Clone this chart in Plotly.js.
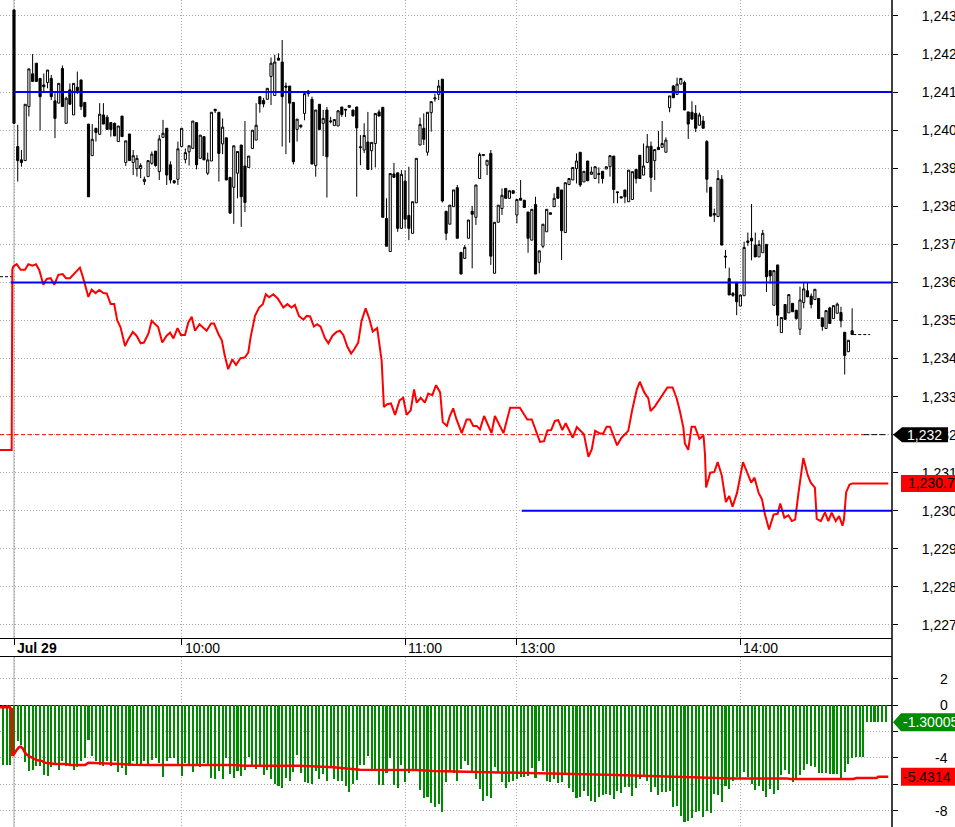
<!DOCTYPE html>
<html><head><meta charset="utf-8">
<script src="https://cdn.plot.ly/plotly-3.0.1.min.js"></script>
<style>html,body{margin:0;padding:0;background:#fff;overflow:hidden}#chart{width:955px;height:827px}</style>
</head><body><div id="chart"></div>
<script>
// ---- time axis (1-minute bar index) ----
const tickIdx = [0, 45, 105, 135, 195];
const tickText = ['Jul 29', '10:00', '11:00', '13:00', '14:00'];

// ---- candles ----
const candleOpen = [1243.16,1239.57,1239.22,1239.20,1240.62,1241.48,1241.76,1241.36,1241.19,1241.25,
1241.36,1240.77,1240.71,1241.62,1240.18,1241.06,1240.40,1241.13,1241.32,1240.73,
1240.16,1239.33,1240.05,1239.89,1240.40,1240.34,1240.20,1240.18,1239.70,1240.37,
1239.15,1239.90,1239.15,1238.99,1238.99,1238.65,1238.78,1239.13,1239.45,1238.91,
1239.81,1240.05,1239.09,1238.67,1238.71,1239.57,1239.23,1239.43,1239.52,1240.20,
1239.26,1239.83,1238.87,1239.19,1240.55,1240.47,1239.64,1239.80,1238.76,1238.50,
1238.87,1239.61,1239.06,1239.02,1239.52,1239.74,1240.88,1240.78,1240.81,1241.41,
1240.91,1241.89,1241.79,1241.16,1241.16,1240.73,1240.02,1240.13,1240.44,1241.03,
1240.81,1239.07,1240.68,1240.18,1240.53,1240.22,1240.12,1240.11,1240.61,1240.55,
1240.60,1240.53,1240.61,1239.54,1239.48,1239.69,1239.46,1239.65,1240.48,1240.60,
1237.68,1236.81,1238.85,1238.88,1237.42,1238.66,1237.76,1237.29,1238.09,1239.61,
1240.05,1239.42,1240.46,1240.82,1240.94,1241.34,1237.87,1237.53,1237.99,1238.49,
1236.79,1236.63,1237.16,1237.87,1237.71,1238.73,1239.33,1239.08,1239.39,1236.24,
1237.58,1237.94,1238.47,1238.21,1238.41,1237.77,1238.21,1238.16,1237.85,1237.11,
1238.05,1236.53,1236.95,1237.33,1237.83,1237.99,1238.50,1238.43,1237.31,1238.57,
1238.69,1238.99,1239.42,1238.64,1239.19,1238.84,1238.73,1238.86,1238.92,1238.98,
1239.04,1239.32,1238.38,1238.25,1238.43,1238.12,1238.18,1238.97,1239.34,1238.82,
1239.15,1239.58,1239.20,1239.55,1239.55,1239.42,1240.59,1241.16,1240.94,1241.21,
1241.25,1240.48,1240.47,1240.44,1240.13,1240.24,1239.70,1238.50,1237.81,1237.73,
1238.71,1236.69,1236.10,1235.71,1236.00,1235.38,1235.65,1237.09,1237.16,1236.98,
1236.67,1236.78,1237.00,1236.31,1235.40,1236.46,1234.68,1235.42,1235.20,1235.45,
1235.27,1234.77,1235.47,1235.78,1235.64,1235.55,1235.58,1235.07,1234.79,1235.33,
1235.05,1235.19,1235.21,1234.69,1234.18,1234.73];
const candleHigh = [1243.16,1240.14,1239.48,1240.68,1241.61,1242.00,1241.76,1241.36,1241.49,1241.58,
1241.45,1240.97,1241.23,1241.70,1240.88,1241.23,1241.23,1241.54,1241.32,1240.73,
1240.16,1240.16,1240.05,1240.71,1240.71,1240.40,1240.20,1240.20,1240.11,1240.37,
1239.72,1239.90,1239.48,1239.35,1239.13,1238.78,1239.20,1239.44,1239.45,1239.87,
1240.27,1240.05,1239.18,1238.69,1239.70,1240.05,1239.52,1239.59,1240.24,1240.20,
1239.87,1239.83,1239.41,1240.47,1240.55,1240.47,1240.31,1239.80,1238.76,1239.59,
1239.44,1239.61,1240.24,1239.32,1240.00,1240.71,1240.88,1240.85,1241.10,1241.91,
1241.98,1242.02,1242.37,1241.25,1241.16,1240.73,1240.29,1240.15,1241.03,1241.05,
1240.88,1240.53,1240.68,1240.53,1240.61,1240.35,1240.28,1240.51,1240.61,1240.55,
1240.65,1240.53,1240.61,1239.87,1240.18,1240.48,1239.68,1240.44,1240.54,1240.60,
1238.21,1238.86,1239.14,1238.88,1238.95,1238.95,1239.04,1238.12,1239.26,1240.33,
1240.44,1240.47,1240.75,1240.96,1241.32,1241.34,1237.87,1238.03,1238.43,1238.56,
1236.79,1236.98,1237.64,1238.01,1238.56,1239.41,1239.36,1239.21,1239.48,1237.58,
1238.03,1238.47,1238.47,1238.41,1238.41,1238.18,1238.69,1238.16,1237.85,1237.92,
1238.25,1236.83,1237.53,1237.92,1237.83,1238.34,1238.50,1238.43,1238.62,1238.73,
1239.02,1239.39,1239.42,1238.92,1239.19,1239.04,1239.04,1239.02,1238.92,1239.04,
1239.33,1239.32,1238.38,1238.25,1238.43,1238.95,1238.91,1238.97,1239.34,1239.65,
1239.90,1239.70,1239.49,1239.98,1240.24,1239.81,1240.90,1241.19,1241.38,1241.36,
1241.30,1240.48,1240.76,1240.66,1240.46,1240.37,1239.74,1238.50,1237.94,1238.95,
1238.82,1236.85,1236.39,1235.75,1236.00,1235.67,1237.07,1237.31,1238.06,1237.31,
1237.11,1237.38,1237.00,1236.31,1236.31,1236.46,1235.08,1235.42,1235.68,1235.45,
1235.27,1235.89,1236.00,1236.00,1235.71,1235.82,1235.58,1235.07,1235.26,1235.36,
1235.39,1235.47,1235.36,1234.69,1234.48,1235.32];
const candleLow = [1240.18,1238.65,1239.04,1239.20,1240.36,1241.28,1241.28,1239.99,1241.01,1241.10,
1240.79,1239.79,1240.71,1240.62,1240.18,1240.68,1240.40,1240.95,1240.53,1240.33,
1238.25,1239.33,1239.70,1239.89,1240.16,1240.02,1239.83,1239.85,1239.70,1239.83,
1239.06,1239.20,1238.82,1238.78,1238.74,1238.56,1238.78,1239.09,1239.04,1238.69,
1239.81,1238.56,1238.60,1238.59,1238.56,1239.57,1239.13,1239.07,1239.52,1238.97,
1239.26,1239.22,1238.82,1239.19,1240.45,1238.65,1239.37,1238.69,1237.82,1237.54,
1238.21,1237.46,1237.85,1239.02,1239.52,1239.74,1240.46,1240.60,1240.81,1240.66,
1240.91,1241.84,1239.57,1239.37,1239.67,1239.10,1239.70,1240.05,1240.26,1240.88,
1239.11,1238.78,1240.00,1239.32,1238.23,1240.18,1240.12,1240.11,1240.35,1240.35,
1240.60,1240.35,1238.25,1239.08,1239.40,1238.97,1238.95,1239.02,1240.37,1237.71,
1236.95,1236.81,1238.76,1237.33,1237.42,1237.42,1237.11,1237.29,1238.09,1239.61,
1239.61,1239.33,1239.96,1240.75,1240.79,1238.10,1237.11,1237.53,1237.99,1237.16,
1236.22,1236.63,1237.16,1236.37,1237.51,1238.73,1239.33,1238.82,1236.46,1236.24,
1237.58,1237.77,1238.21,1238.21,1238.34,1237.55,1238.16,1237.97,1236.78,1237.11,
1236.22,1236.24,1236.90,1237.33,1237.79,1237.99,1238.21,1236.59,1237.31,1238.57,
1238.69,1238.60,1238.51,1238.64,1238.67,1238.84,1238.73,1238.60,1238.60,1238.98,
1238.78,1238.08,1238.08,1238.22,1238.08,1238.12,1238.18,1238.60,1238.73,1238.82,
1239.15,1238.38,1238.69,1239.49,1239.55,1239.42,1240.47,1240.85,1240.94,1241.21,
1240.53,1239.77,1240.29,1239.95,1240.13,1240.05,1238.36,1237.74,1237.59,1237.73,
1236.98,1236.37,1235.67,1235.62,1235.14,1235.38,1235.65,1236.96,1236.58,1236.67,
1236.67,1236.78,1235.75,1235.97,1235.40,1234.85,1234.68,1235.03,1235.20,1235.23,
1235.02,1234.62,1235.32,1235.62,1235.32,1235.55,1235.05,1234.73,1234.79,1234.92,
1235.05,1235.19,1234.82,1233.58,1234.18,1234.63];
const candleClose = [1240.18,1239.20,1239.15,1240.68,1241.61,1241.28,1241.28,1240.88,1241.14,1241.58,
1240.88,1240.31,1241.23,1240.62,1240.84,1240.68,1241.23,1241.04,1240.62,1240.36,
1238.25,1239.76,1239.94,1240.42,1240.16,1240.02,1240.02,1239.85,1240.11,1239.83,
1239.72,1239.20,1239.33,1239.26,1239.07,1238.71,1239.20,1239.37,1239.07,1239.77,
1239.92,1238.82,1238.69,1238.62,1239.51,1240.05,1239.41,1239.59,1240.24,1239.09,
1239.87,1239.22,1239.22,1240.47,1240.51,1239.39,1240.08,1238.69,1237.82,1239.59,
1239.44,1238.25,1238.10,1239.32,1240.00,1240.13,1240.69,1240.69,1241.10,1241.76,
1241.79,1241.84,1240.88,1241.13,1240.71,1239.17,1240.29,1240.09,1240.96,1240.96,
1239.11,1240.53,1240.02,1240.31,1239.30,1240.24,1240.28,1240.51,1240.41,1240.53,
1240.65,1240.38,1240.06,1239.56,1239.86,1238.97,1239.68,1240.44,1240.37,1237.71,
1236.95,1238.86,1238.76,1237.42,1238.84,1237.66,1237.42,1238.12,1239.26,1240.15,
1239.76,1240.47,1240.75,1240.85,1241.16,1238.14,1237.29,1238.03,1238.43,1237.16,
1236.22,1236.92,1237.64,1237.79,1238.56,1239.36,1239.36,1239.21,1236.69,1237.58,
1238.03,1238.29,1238.21,1238.41,1238.34,1238.18,1238.16,1237.97,1237.16,1237.92,
1236.22,1236.83,1237.53,1237.92,1237.79,1238.21,1238.21,1237.36,1238.62,1238.73,
1239.02,1239.19,1238.56,1238.92,1238.67,1238.90,1239.04,1238.84,1238.73,1239.04,
1239.33,1238.44,1238.36,1238.22,1238.25,1238.95,1238.91,1238.73,1238.73,1239.06,
1239.58,1238.76,1239.49,1239.49,1239.65,1239.74,1240.90,1240.85,1241.21,1241.36,
1240.53,1240.16,1240.29,1240.05,1240.40,1240.05,1238.71,1237.74,1237.77,1238.73,
1236.98,1236.67,1235.67,1235.66,1235.49,1235.67,1236.92,1237.05,1237.09,1236.67,
1237.00,1237.29,1236.15,1236.17,1236.31,1235.14,1235.08,1235.03,1235.68,1235.23,
1235.05,1235.54,1235.83,1235.62,1235.42,1235.82,1235.05,1234.84,1235.26,1234.92,
1235.39,1235.43,1234.99,1234.08,1234.48,1234.63];

// ---- overlay red line (bar index, price) ----
const redLine = [[-3.76,1231.60],[-0.62,1231.60],[-0.45,1236.35],[-0.18,1236.42],[0.72,1236.48],[1.79,1236.33],[2.95,1236.33],[3.85,1236.48],[4.93,1236.44],[5.91,1236.48],[6.80,1236.32],[7.88,1235.94],[8.77,1236.09],[9.84,1236.11],[10.83,1235.94],[11.9,1236.20],[13.06,1236.22],[13.96,1236.11],[15.03,1236.11],[16.4,1236.25],[17.7,1236.39],[18.8,1236.04],[19.96,1235.62],[20.85,1235.81],[21.9,1235.72],[22.9,1235.80],[24.0,1235.72],[24.9,1235.71],[25.95,1235.43],[26.9,1235.43],[27.7,1235.01],[28.6,1234.82],[29.8,1234.33],[30.7,1234.51],[31.9,1234.70],[32.9,1234.60],[34.0,1234.40],[34.9,1234.42],[36.1,1234.66],[36.96,1234.99],[38.7,1234.83],[39.8,1234.42],[40.98,1234.60],[41.9,1234.68],[42.8,1234.53],[43.9,1234.80],[44.8,1234.62],[45.9,1234.62],[46.8,1234.95],[47.7,1235.10],[48.6,1234.73],[49.8,1234.90],[50.8,1234.80],[51.7,1234.73],[52.9,1234.92],[53.7,1234.92],[54.9,1234.64],[55.8,1234.48],[56.5,1234.11],[57.5,1233.72],[58.6,1233.98],[59.6,1233.83],[60.8,1234.01],[62.0,1234.03],[62.9,1234.16],[63.5,1234.55],[64.7,1235.12],[65.8,1235.34],[66.8,1235.43],[67.6,1235.69],[68.5,1235.61],[69.6,1235.69],[70.8,1235.58],[72.3,1235.34],[73.4,1235.43],[74.5,1235.34],[75.4,1235.41],[76.5,1235.12],[77.7,1235.02],[78.6,1235.12],[79.5,1235.11],[80.5,1234.84],[81.4,1234.90],[82.3,1234.84],[83.5,1234.53],[84.4,1234.40],[85.5,1234.60],[86.6,1234.70],[87.5,1234.73],[88.4,1234.62],[89.5,1234.31],[90.5,1234.13],[91.4,1234.25],[92.4,1234.42],[93.3,1234.99],[94.4,1235.32],[95.4,1235.04],[96.3,1234.71],[97.5,1234.80],[98.7,1233.94],[99.3,1232.73],[100.2,1232.80],[101.2,1232.82],[102.3,1232.52],[103.5,1232.90],[104.5,1232.97],[105.4,1232.52],[106.5,1232.64],[107.4,1233.19],[108.1,1232.84],[109.2,1232.97],[110.3,1232.84],[111.2,1233.08],[112.3,1233.04],[113.3,1233.30],[114.4,1233.11],[115.1,1232.33],[116.2,1232.23],[117.0,1232.49],[117.9,1232.69],[118.8,1232.40],[120.2,1232.04],[121.5,1232.40],[122.4,1232.40],[123.3,1232.23],[124.2,1232.23],[125.1,1232.14],[126.2,1232.49],[128.2,1232.04],[129.1,1232.49],[131.4,1232.04],[133.2,1232.71],[135.8,1232.71],[137.8,1232.40],[139.0,1232.40],[141.2,1231.81],[142.3,1231.83],[143.2,1232.11],[144.2,1232.12],[145.2,1232.36],[146.1,1232.38],[147.2,1232.12],[148.1,1232.30],[150.0,1231.92],[151.1,1232.20],[153.0,1232.01],[154.2,1231.42],[155.1,1231.61],[156.0,1232.10],[157.3,1232.03],[158.2,1232.03],[159.1,1232.21],[160.0,1232.21],[160.9,1231.96],[161.9,1231.72],[163.1,1231.92],[164.9,1232.10],[166.0,1232.67],[167.2,1233.19],[168.0,1233.39],[169.2,1233.11],[170.3,1232.95],[170.9,1232.62],[172.1,1232.75],[173.1,1232.91],[174.0,1233.02],[175.4,1233.24],[176.8,1233.24],[177.9,1232.95],[178.8,1232.60],[179.7,1232.18],[180.1,1231.77],[181.0,1231.60],[181.9,1232.21],[182.8,1232.21],[184.0,1231.89],[185.1,1231.98],[185.5,1231.48],[185.8,1230.61],[186.9,1231.00],[188.0,1231.02],[188.9,1231.28],[190.0,1230.93],[191.1,1230.23],[192.0,1230.39],[192.9,1230.11],[194.1,1230.47],[195.7,1231.28],[196.7,1231.04],[197.9,1230.74],[198.8,1230.87],[199.9,1230.47],[200.8,1230.30],[201.6,1229.90],[202.7,1229.51],[203.9,1229.90],[205.0,1229.92],[205.7,1230.19],[206.8,1229.82],[207.9,1229.88],[208.8,1229.73],[209.7,1229.77],[210.6,1230.47],[211.9,1231.39],[213.1,1230.93],[213.9,1230.74],[215.0,1230.61],[215.5,1229.79],[216.6,1229.73],[217.7,1229.96],[218.6,1229.73],[219.5,1229.95],[220.6,1229.73],[221.5,1229.86],[222.4,1229.61],[222.8,1229.77],[223.4,1230.49],[224.3,1230.69],[225.1,1230.72],[234.7,1230.72]];

// ---- horizontal level lines ----
const levelPrices = [1241, 1236, 1230];
const levelFrom = [0, -0.9, 136.3];
const prevClose = 1232;
const prevDayLast = 1236.15;
const lastPrice = 1234.63;

// ---- lower panel: histogram and its average ----
const histPreDay = [-4.52, -4.52, -4.52];
const histMorning = [-3.64,-2.75,-3.01,-4.34,-5.03,-4.90,-4.65,-4.65,-5.28,-5.40,
-4.72,-4.52,-4.95,-4.22,-4.65,-4.57,-4.95,-4.72,-4.22,-4.02,
-2.63,-3.89,-4.22,-4.52,-4.60,-4.22,-4.60,-4.27,-5.10,-4.77,
-5.33,-4.60,-4.22,-4.65,-4.60,-4.27,-4.60,-4.14,-4.02,-4.39,
-5.48,-4.22,-4.02,-4.02,-4.60,-5.40,-4.39,-4.65,-5.10,-4.52,
-4.72,-4.39,-4.52,-5.56,-5.61,-5.03,-5.61,-4.02,-5.20,-5.53,
-5.03,-5.35,-4.90,-3.96,-4.65,-4.85,-4.60,-5.28,-4.95,-5.61,
-5.98,-6.11,-6.31,-5.53,-5.73,-5.08,-3.76,-5.15,-5.86,-5.91,
-5.96,-5.03,-5.58,-5.20,-5.78,-4.65,-5.61,-5.78,-5.78,-6.16,
-6.57,-5.96,-5.66,-4.52,-4.52,-3.89,-4.90,-4.95,-6.04,-6.09,
-5.15,-4.02,-6.04,-6.29];
const histLater = [-4.55,-5.81,-5.13,-4.87,-4.87,-6.44,-7.07,-6.94,-7.40,-7.70,
-7.50,-8.08,-5.81,-5.00,-5.13,-5.73,-4.85,-4.22,-4.55,-5.18,
-5.61,-6.34,-7.25,-6.87,-7.02,-4.67,-5.08,-5.81,-6.26,-5.81,
-5.73,-5.63,-5.43,-5.43,-5.35,-4.75,-5.51,-4.24,-5.00,-5.73,
-5.83,-5.63,-5.88,-5.81,-5.23,-6.26,-6.57,-7.02,-6.94,-6.49,
-6.89,-7.25,-7.32,-6.94,-6.84,-6.74,-6.84,-7.10,-6.49,-6.64,
-6.24,-6.19,-6.89,-6.26,-5.58,-5.48,-5.73,-6.57,-6.19,-6.82,
-6.57,-6.57,-6.52,-7.70,-7.63,-8.38,-8.84,-8.76,-8.54,-8.08,
-8.03,-8.46,-8.03,-8.16,-6.74,-6.82,-7.37,-6.14,-6.39,-5.73,
-5.48,-5.61,-5.05,-5.48,-6.01,-6.44,-6.11,-6.49,-6.94,-6.36,
-6.77,-6.44,-5.30,-4.92,-5.23,-5.81,-5.56,-5.30,-4.92,-4.47,
-4.62,-4.72,-5.18,-5.18,-5.13,-5.23,-5.23,-5.23,-5.56,-5.05,
-4.47,-3.99,-3.91,-3.91,-3.91,
-1.29,-1.29,-1.29,-1.29,-1.29,-1.30005];
const histFirstIdx = -3;
const avgLine = [[-3.76,-0.18],[-1.07,-0.18],[-0.8,-0.33],[-0.6,-0.33],[-0.45,-3.79],[-0.18,-3.79],[0.72,-3.41],[1.3,-3.21],[1.79,-3.16],[2.33,-3.28],[2.95,-3.61],[3.58,-3.79],[4.3,-3.91],[5.19,-4.04],[6.08,-4.17],[7.43,-4.24],[8.32,-4.37],[11.0,-4.47],[14.1,-4.47],[15.0,-4.55],[19.1,-4.55],[19.96,-4.37],[26.7,-4.42],[28.5,-4.47],[32.0,-4.52],[36.5,-4.55],[58.9,-4.55],[62,-4.6],[76.8,-4.6],[85.7,-4.72],[92.9,-4.9],[108,-4.92],[112.6,-5.0],[121.5,-5.05],[139.4,-5.13],[146.6,-5.18],[153.8,-5.23],[161.8,-5.3],[170.8,-5.38],[177.1,-5.43],[184.2,-5.51],[193.1,-5.56],[207.5,-5.56],[208.4,-5.61],[225.3,-5.61],[226.2,-5.53],[231.6,-5.53],[232,-5.4314],[234.7,-5.4314]];
const lowerTicks = [2, 0, -4, -8];
const lowerGrid = [2, 0, -2, -4, -6, -8];

// ---- build ----
const XR = [-3.758, 235.7];
const candleX = candleOpen.map((_, i) => i);
const histVals = histPreDay.concat(histMorning, histLater);
const histX = histVals.map((_, k) => histFirstIdx + k);
const FONT = '"Liberation Sans", Arial, Helvetica, sans-serif';
const GRID = '#a8a8a8';

const traces = [];
traces.push({type:'candlestick', x:candleX, open:candleOpen, high:candleHigh, low:candleLow, close:candleClose,
  xaxis:'x', yaxis:'y', whiskerwidth:0, line:{width:1},
  increasing:{line:{color:'#000', width:1}, fillcolor:'#ffffff'},
  decreasing:{line:{color:'#000', width:1}, fillcolor:'#000000'}, hoverinfo:'skip'});
traces.push({type:'scatter', mode:'lines', x:[XR[0], 228], y:[prevClose, prevClose], xaxis:'x', yaxis:'y',
  line:{color:'#ff0000', width:1, dash:'4px,3px'}});
traces.push({type:'scatter', mode:'lines', x:[228, 234.5], y:[prevClose, prevClose], xaxis:'x', yaxis:'y',
  line:{color:'#000', width:1, dash:'6px,2px'}});
traces.push({type:'scatter', mode:'lines', x:[XR[0], -0.6], y:[prevDayLast, prevDayLast], xaxis:'x', yaxis:'y',
  line:{color:'#000', width:1, dash:'3px,2px'}});
traces.push({type:'scatter', mode:'lines', x:[225.3, 229.8], y:[lastPrice, lastPrice], xaxis:'x', yaxis:'y',
  line:{color:'#000', width:1, dash:'3px,2px'}});
traces.push({type:'scatter', mode:'lines', x:redLine.map(p=>p[0]), y:redLine.map(p=>p[1]), xaxis:'x', yaxis:'y',
  line:{color:'#ff0000', width:2}});
levelPrices.forEach((p, k) => traces.push({type:'scatter', mode:'lines', x:[levelFrom[k], XR[1]], y:[p, p],
  xaxis:'x', yaxis:'y', line:{color:'#0000ff', width:2}}));
traces.push({type:'bar', x:histX, y:histVals, xaxis:'x2', yaxis:'y2', width:0.55,
  marker:{color:'#008a00', line:{width:0}}});
traces.push({type:'scatter', mode:'lines', x:avgLine.map(p=>p[0]), y:avgLine.map(p=>p[1]), xaxis:'x2', yaxis:'y2',
  line:{color:'#ff0000', width:2.5}});

const PW = 892; // plot width in px
const mainDom = [1 - 638/827, 1];
const lowDom = [0, 170/827];
const pxX = px => px / PW;

const fmt = v => v.toLocaleString('en-US', {maximumFractionDigits: 1});
const redLast = redLine[redLine.length-1][1];
const histLast = histVals[histVals.length-1];
const avgLast = avgLine[avgLine.length-1][1];

const shapes = [
  {type:'line', xref:'paper', yref:'paper', x0:1, x1:1, y0:0, y1:1, line:{color:'#000', width:1.5}},
  {type:'line', xref:'x', yref:'paper', x0:0, x1:0, y0:mainDom[0], y1:1, layer:'below', line:{color:'#c4c4c4', width:1.5}},
  {type:'line', xref:'x2', yref:'paper', x0:0, x1:0, y0:0, y1:lowDom[1], layer:'below', line:{color:'#c4c4c4', width:1.5}},
  {type:'path', xref:'paper', xsizemode:'pixel', xanchor:1, yref:'y', ysizemode:'pixel', yanchor:prevClose,
   path:'M1,0 L10,7.5 L56,7.5 L56,-7.5 L10,-7.5 Z', fillcolor:'#000', line:{width:0}},
  {type:'path', xref:'paper', xsizemode:'pixel', xanchor:1, yref:'y', ysizemode:'pixel', yanchor:redLast,
   path:'M9,8.5 L70,8.5 L70,-8.5 L9,-8.5 Z', fillcolor:'#ff0000', line:{width:0}},
  {type:'path', xref:'paper', xsizemode:'pixel', xanchor:1, yref:'y2', ysizemode:'pixel', yanchor:histLast,
   path:'M1,0 L9,9 L70,9 L70,-9 L9,-9 Z', fillcolor:'#008a00', line:{width:0}},
  {type:'path', xref:'paper', xsizemode:'pixel', xanchor:1, yref:'y2', ysizemode:'pixel', yanchor:avgLast,
   path:'M9,9 L70,9 L70,-9 L9,-9 Z', fillcolor:'#ff0000', line:{width:0}}
];

const annotations = [];
tickIdx.forEach((t, k) => annotations.push({xref:'x', x:t, xanchor:'left', xshift:1, yref:'paper', y:(827-647.5)/827,
  yanchor:'middle', showarrow:false, text: k === 0 ? '<b>' + tickText[k] + '</b>' : tickText[k], font:{size:14, color:'#000'}}));
lowerTicks.forEach(v => annotations.push({xref:'paper', x:pxX(950), xanchor:'right', yref:'y2', y:v, yanchor:'middle',
  showarrow:false, text:String(v), font:{size:14, color:'#000'}}));
annotations.push({xref:'paper', x:pxX(905), xanchor:'left', yref:'y', y:prevClose, yanchor:'middle', showarrow:false,
  text:fmt(prevClose), font:{size:14, color:'#fff'}});
annotations.push({xref:'paper', x:pxX(906), xanchor:'left', yref:'y', y:redLast, yanchor:'middle', showarrow:false,
  text:fmt(redLast), font:{size:14, color:'#000'}});
annotations.push({xref:'paper', x:pxX(901), xanchor:'left', yref:'y2', y:histLast, yanchor:'middle', showarrow:false,
  text:String(histLast), font:{size:14, color:'#fff'}});
annotations.push({xref:'paper', x:pxX(901), xanchor:'left', yref:'y2', y:avgLast, yanchor:'middle', showarrow:false,
  text:String(avgLast), font:{size:14, color:'#000'}});

const layout = {
  width:955, height:827, margin:{l:0, r:63, t:0, b:0, pad:0},
  paper_bgcolor:'#fff', plot_bgcolor:'#fff', showlegend:false,
  font:{family:FONT, size:14, color:'#000'},
  xaxis:{domain:[0,1], anchor:'y', range:XR, tickvals:tickIdx, showticklabels:false, ticks:'outside', ticklen:6,
    tickcolor:'#000', tickwidth:1, showgrid:true, gridcolor:GRID, griddash:'1px,2px', gridwidth:1,
    showline:true, linecolor:'#000', linewidth:1, zeroline:false, rangeslider:{visible:false}, fixedrange:true},
  yaxis:{domain:mainDom, anchor:'x', side:'right', range:[1226.658, 1243.42], tick0:1227, dtick:1, tickformat:',d',
    ticks:'outside', ticklen:5, tickcolor:'#000', ticklabelstandoff:21, showgrid:true, gridcolor:GRID,
    griddash:'1px,2px', zeroline:false, showline:false, tickfont:{size:14, color:'#000'}},
  xaxis2:{domain:[0,1], anchor:'y2', side:'top', range:XR, tickvals:tickIdx, showticklabels:false, ticks:'',
    showgrid:true, gridcolor:GRID, griddash:'1px,2px', showline:true, linecolor:'#000', linewidth:1, zeroline:false},
  yaxis2:{domain:lowDom, anchor:'x2', side:'right', range:[-9.242, 3.636], tickvals:lowerGrid, showticklabels:false,
    ticks:'outside', ticklen:5, tickcolor:'#000', showgrid:true, gridcolor:GRID, griddash:'1px,2px',
    zeroline:true, zerolinecolor:'#000', zerolinewidth:1, showline:false},
  shapes: shapes,
  annotations: annotations,
  bargap: 0,
  boxgap: 0.18
};

Plotly.newPlot('chart', traces, layout, {staticPlot:true, displayModeBar:false});
</script></body></html>
